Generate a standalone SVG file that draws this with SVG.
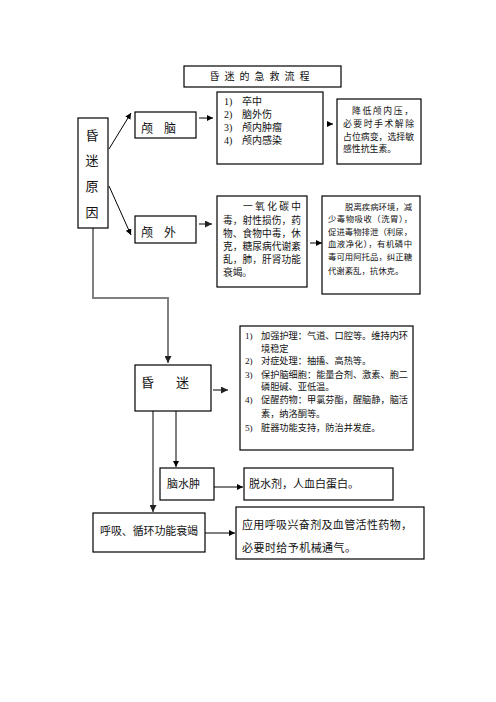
<svg xmlns="http://www.w3.org/2000/svg" width="496" height="702" viewBox="0 0 496 702">
<defs>
<style>
.box{fill:#fff;stroke:#000;stroke-width:1.2}
.t{font-family:"Liberation Serif","Noto Sans CJK SC",serif;fill:#111}
.s8{font-size:8.4px}
.s9{font-size:9.2px}
.s9b{font-size:8.9px}
.s97{font-size:9.7px}
.s10{font-size:10px}
.s11{font-size:11px}
.s12{font-size:12px}
.s13{font-size:13px}
.ln{fill:none;stroke:#000;stroke-width:1}
.gl{fill:none;stroke:#808080;stroke-width:2}
</style>
<marker id="ah" viewBox="0 0 10 10" refX="10" refY="5" markerWidth="6" markerHeight="6" markerUnits="userSpaceOnUse" orient="auto">
<path d="M0,0 L10,5 L0,10 z" fill="#000"/>
</marker>
<marker id="ahg" viewBox="0 0 10 10" refX="10" refY="5" markerWidth="7" markerHeight="7" markerUnits="userSpaceOnUse" orient="auto">
<path d="M0,0 L10,5 L0,10 z" fill="#222"/>
</marker>
</defs>
<rect width="496" height="702" fill="#fff"/>

<g id="connectors">
<path class="ln" d="M109,149 L131,113" marker-end="url(#ah)"/>
<path class="ln" d="M109,186 L131,235" marker-end="url(#ah)"/>
<path class="ln" d="M199,118 L213,118" marker-end="url(#ah)"/>
<path class="gl" d="M199,224 L212,224" marker-end="url(#ahg)"/>
<path class="ln" d="M327,124 L333,124" marker-end="url(#ah)"/>
<path class="ln" d="M310,243 L322,243" marker-end="url(#ah)"/>
<path class="gl" d="M93,228 L93,298 L168,298 L168,363" marker-end="url(#ahg)"/>
<path class="gl" d="M213,390 L228,390" marker-end="url(#ahg)"/>
<path class="gl" d="M153,411 L153,512" marker-end="url(#ahg)"/>
<path class="ln" d="M176,411 L176,467" marker-end="url(#ah)"/>
<path class="ln" d="M214,487 L243,487" marker-end="url(#ah)"/>
<path class="ln" d="M205,533 L235,533" marker-end="url(#ah)"/>
</g>

<g id="title">
<rect class="box" x="184" y="66" width="157" height="21"/>
<text class="t s10" x="262" y="80" text-anchor="middle" letter-spacing="5">昏迷的急救流程</text>
</g>

<g id="cause">
<rect class="box" x="78" y="118" width="30" height="110"/>
<text class="t s13" x="92" y="140" text-anchor="middle">昏</text>
<text class="t s13" x="92" y="165" text-anchor="middle">迷</text>
<text class="t s13" x="92" y="191" text-anchor="middle">原</text>
<text class="t s13" x="92" y="217" text-anchor="middle">因</text>
</g>

<g id="intracranial">
<rect class="box" x="135" y="112" width="61" height="26"/>
<text class="t s12" x="141" y="133">颅</text>
<text class="t s12" x="164" y="133">脑</text>
</g>

<g id="extracranial">
<rect class="box" x="135" y="216" width="61" height="27"/>
<text class="t s12" x="141" y="237">颅</text>
<text class="t s12" x="164" y="237">外</text>
</g>

<g id="intra-list">
<rect class="box" x="217" y="92" width="106" height="72"/>
<text class="t s10" x="224" y="105">1)</text><text class="t s10" x="242" y="105">卒中</text>
<text class="t s10" x="224" y="118">2)</text><text class="t s10" x="242" y="118">脑外伤</text>
<text class="t s10" x="224" y="131">3)</text><text class="t s10" x="242" y="131">颅内肿瘤</text>
<text class="t s10" x="224" y="144">4)</text><text class="t s10" x="242" y="144">颅内感染</text>
</g>

<g id="intra-treat">
<rect class="box" x="337" y="99" width="84" height="65"/>
<text class="t s9b" x="352" y="114" textLength="61" lengthAdjust="spacing">降低颅内压，</text>
<text class="t s9b" x="343" y="127" textLength="71" lengthAdjust="spacing">必要时手术解除</text>
<text class="t s9b" x="343" y="140" textLength="71" lengthAdjust="spacing">占位病变，选择敏</text>
<text class="t s9b" x="343" y="152">感性抗生素。</text>
</g>

<g id="extra-list">
<rect class="box" x="217" y="196" width="90" height="91"/>
<text class="t s97" x="243" y="210" textLength="58" lengthAdjust="spacing">一氧化碳中</text>
<text class="t s97" x="223" y="224" textLength="78" lengthAdjust="spacing">毒，射性损伤，药</text>
<text class="t s97" x="223" y="237" textLength="78" lengthAdjust="spacing">物、食物中毒，休</text>
<text class="t s97" x="223" y="250" textLength="78" lengthAdjust="spacing">克，糖尿病代谢紊</text>
<text class="t s97" x="223" y="263" textLength="78" lengthAdjust="spacing">乱，肺，肝肾功能</text>
<text class="t s97" x="223" y="276">衰竭。</text>
</g>

<g id="extra-treat">
<rect class="box" x="322" y="196" width="98" height="98"/>
<text class="t s8" x="345" y="210" textLength="67" lengthAdjust="spacing">脱离疾病环境，减</text>
<text class="t s8" x="328" y="222" textLength="84" lengthAdjust="spacing">少毒物吸收（洗胃），</text>
<text class="t s8" x="328" y="235" textLength="84" lengthAdjust="spacing">促进毒物排泄（利尿，</text>
<text class="t s8" x="328" y="247" textLength="84" lengthAdjust="spacing">血液净化），有机磷中</text>
<text class="t s8" x="328" y="260" textLength="84" lengthAdjust="spacing">毒可用阿托品，纠正糖</text>
<text class="t s8" x="328" y="274">代谢紊乱，抗休克。</text>
</g>

<g id="coma">
<rect class="box" x="135" y="365" width="76" height="46"/>
<text class="t s13" x="141" y="387">昏</text>
<text class="t s13" x="176" y="387">迷</text>
</g>

<g id="coma-list">
<rect class="box" x="240" y="326" width="173" height="124"/>
<text class="t s9" x="245" y="339">1)</text><text class="t s9" x="261" y="339" textLength="147" lengthAdjust="spacing">加强护理：气道、口腔等。维持内环</text>
<text class="t s9" x="261" y="352">境稳定</text>
<text class="t s9" x="245" y="364">2)</text><text class="t s9" x="261" y="364">对症处理：抽搐、高热等。</text>
<text class="t s9" x="245" y="378">3)</text><text class="t s9" x="261" y="378" textLength="147" lengthAdjust="spacing">保护脑细胞：能量合剂、激素、胞二</text>
<text class="t s9" x="261" y="390">磷胆碱、亚低温。</text>
<text class="t s9" x="245" y="403">4)</text><text class="t s9" x="261" y="403" textLength="147" lengthAdjust="spacing">促醒药物：甲氯芬酯，醒脑静，脑活</text>
<text class="t s9" x="261" y="417">素，纳洛酮等。</text>
<text class="t s9" x="245" y="431">5)</text><text class="t s9" x="261" y="431">脏器功能支持，防治并发症。</text>
</g>

<g id="edema">
<rect class="box" x="160" y="468" width="54" height="32"/>
<text class="t s11" x="167" y="488" textLength="33" lengthAdjust="spacing">脑水肿</text>
</g>

<g id="edema-treat">
<rect class="box" x="244" y="468" width="149" height="32"/>
<text class="t s11" x="249" y="488" textLength="110" lengthAdjust="spacing">脱水剂，人血白蛋白。</text>
</g>

<g id="failure">
<rect class="box" x="93" y="513" width="112" height="39"/>
<text class="t s11" x="100" y="535" textLength="98" lengthAdjust="spacing">呼吸、循环功能衰竭</text>
</g>

<g id="failure-treat">
<rect class="box" x="236" y="507" width="188" height="52"/>
<text class="t s11" x="242" y="529" textLength="170" lengthAdjust="spacing">应用呼吸兴奋剂及血管活性药物，</text>
<text class="t s11" x="242" y="552" textLength="114" lengthAdjust="spacing">必要时给予机械通气。</text>
</g>
</svg>
